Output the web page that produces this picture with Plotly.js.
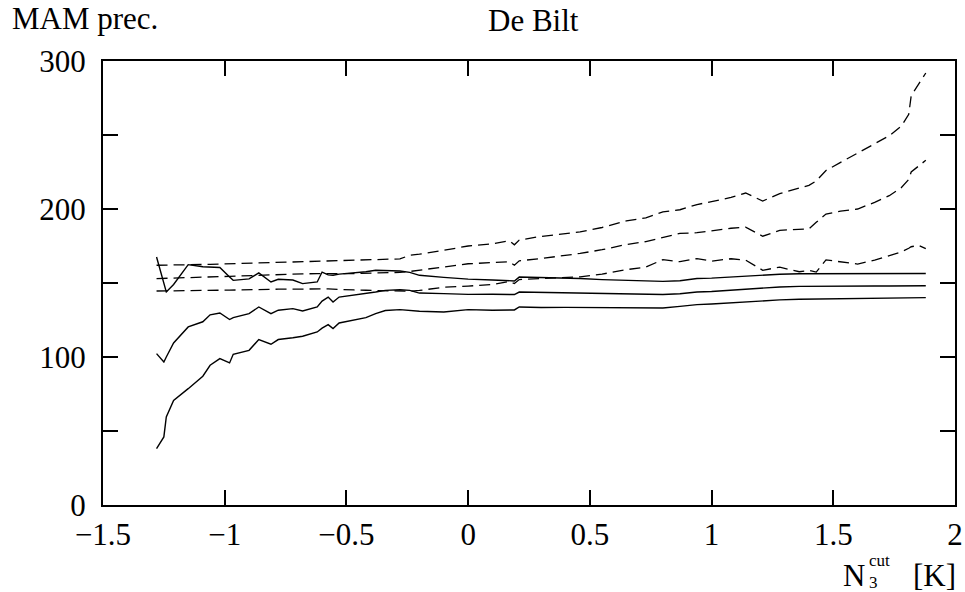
<!DOCTYPE html>
<html>
<head>
<meta charset="utf-8">
<script src="https://cdn.plot.ly/plotly-3.0.1.min.js"></script>
<style>html,body{margin:0;padding:0;background:#fff;}#chart{width:965px;height:592px;}</style>
</head>
<body>
<div id="chart"></div>
<script>
// N3 cut threshold [K]
const xCut = [-1.28, -1.25, -1.24, -1.21, -1.15, -1.09, -1.06, -1.02, -0.98, -0.965, -0.90, -0.86, -0.81, -0.78, -0.72, -0.68, -0.62, -0.60, -0.575, -0.555, -0.53, -0.47, -0.42, -0.38, -0.34, -0.28, -0.24, -0.20, -0.10, 0.00, 0.10, 0.17, 0.19, 0.21, 0.30, 0.40, 0.46, 0.55, 0.65, 0.73, 0.80, 0.87, 0.94, 1.00, 1.08, 1.14, 1.21, 1.28, 1.36, 1.40, 1.43, 1.47, 1.53, 1.60, 1.67, 1.73, 1.78, 1.81, 1.82, 1.85, 1.88];

// solid curves
const solidUpper = [167.6, 151, 144, 149, 162.4, 161, 160.8, 160.5, 154, 151.8, 152.8, 156.8, 150.7, 152.5, 152, 149.6, 150.7, 157.4, 155.5, 155.2, 156, 156.8, 157.6, 158.6, 158.4, 158.1, 157.2, 155.2, 153.8, 152.6, 152, 151.4, 151.4, 154, 153.7, 153.3, 153, 152.3, 151.8, 151.2, 151.1, 151.5, 153, 153.3, 154, 154.6, 155.6, 155.9, 156.3, 156.3, 156.3, 156.3, 156.3, 156.4, 156.4, 156.4, 156.4, 156.4, 156.4, 156.4, 156.4];
const solidMiddle = [102.3, 96.6, 100, 109.5, 120.3, 123.8, 128.5, 129.7, 125.3, 126.6, 129.3, 133.8, 129.3, 131.6, 132.7, 131.1, 133.8, 137.8, 140.5, 137.2, 140.5, 141.7, 142.8, 143.9, 145, 145.4, 145, 143.2, 142.8, 142.3, 142.4, 142.4, 142.2, 143.9, 143.6, 143.3, 143.2, 142.6, 142.5, 142, 142.2, 142.7, 143.9, 144.3, 145.1, 145.9, 146.9, 147.3, 147.7, 147.8, 147.8, 147.9, 147.9, 148, 148, 148, 148.1, 148.1, 148.1, 148.1, 148.1];
const solidLower = [38.1, 46, 59.5, 70.7, 78.6, 87, 94.4, 98.9, 96, 101.8, 104.5, 111.8, 108.6, 111.8, 113, 114, 116.9, 119.5, 121.9, 119.2, 123, 124.8, 126.6, 129.3, 131.4, 132, 131.3, 130.9, 130.4, 132, 131.6, 132, 131.8, 133.8, 133.4, 133.5, 133.4, 133.2, 133, 132.8, 133.1, 134.2, 135.4, 135.8, 136.6, 137.3, 138.3, 138.6, 139, 139.1, 139.2, 139.3, 139.4, 139.5, 139.6, 139.8, 139.9, 140, 140, 140.1, 140.1];

// dashed curves
const dashUpper = [162, 162, 162, 162.1, 162.3, 162.5, 162.6, 162.8, 163, 163, 163.3, 163.5, 163.7, 163.9, 164.2, 164.5, 164.9, 164.9, 164.9, 165, 165, 165.2, 165.5, 165.8, 166, 166.3, 168.7, 169.5, 172.1, 175, 176.5, 178.5, 175.8, 179, 181.5, 183.5, 184.5, 187.5, 192, 194, 198, 199.5, 203, 205, 207.8, 210.8, 205.4, 210.4, 213.8, 216, 219, 226, 231.5, 237.6, 244, 249.5, 256, 264, 276.5, 284, 291.9];
const dashMiddle = [153, 153.2, 153.2, 153.4, 153.7, 154, 154.1, 154.3, 154.5, 154.6, 154.9, 155.1, 155.4, 155.6, 156, 156.2, 156.3, 156.4, 156.4, 156.4, 156.4, 156.4, 156.5, 156.6, 156.8, 157.2, 157.8, 158.6, 160.5, 163, 163.8, 164.3, 162, 165, 166.5, 168.5, 170, 172.5, 176, 178, 181, 183.5, 184, 185.5, 187, 187.8, 181.6, 185.6, 186.1, 186.6, 191, 196.6, 198.5, 200, 204.5, 209, 214.5, 220, 225, 229, 232.9];
const dashLower = [144.6, 144.6, 144.6, 144.7, 144.8, 145, 145, 145.1, 145.2, 145.2, 145.4, 145.5, 145.7, 145.8, 146, 146.2, 146.2, 146, 146, 145.8, 145.6, 145.3, 145.1, 145, 144.8, 144.6, 144.4, 145, 147.1, 147.9, 149, 151, 149.6, 152.3, 153, 153.6, 154.2, 156, 159, 160.8, 165.8, 164.4, 166.5, 164.8, 166.4, 165.5, 158.6, 160.7, 157.6, 158.5, 157.4, 165.6, 164.3, 162.8, 165.5, 168.5, 171, 173.5, 174.5, 175.4, 173.2];

const yTickVals = [0, 50, 100, 150, 200, 250, 300];
const yTickText = ['0', '', '100', '', '200', '', '300'];
const xTickVals = [-1.5, -1, -0.5, 0, 0.5, 1, 1.5, 2];
const xTickText = ['\u22121.5', '\u22121', '\u22120.5', '0', '0.5', '1', '1.5', '2'];

const FONT = 'Liberation Serif, Times New Roman, serif';
const FS = 31;
const solidStyle = {color: '#000', width: 1.4};
const dashStyle = {color: '#000', width: 1.3, dash: '11px,6px'};

const traces = [
  {x: xCut, y: solidUpper, mode: 'lines', line: solidStyle},
  {x: xCut, y: solidMiddle, mode: 'lines', line: solidStyle},
  {x: xCut, y: solidLower, mode: 'lines', line: solidStyle},
  {x: xCut, y: dashUpper, mode: 'lines', line: dashStyle},
  {x: xCut, y: dashMiddle, mode: 'lines', line: dashStyle},
  {x: xCut, y: dashLower, mode: 'lines', line: dashStyle}
];

const axisCommon = {
  showline: true, linecolor: '#000', linewidth: 2, mirror: 'ticks',
  ticks: 'inside', ticklen: 15, tickwidth: 2, tickcolor: '#000',
  showgrid: false, zeroline: false, fixedrange: true,
  tickfont: {family: FONT, size: FS, color: '#000'}
};

const layout = {
  width: 965, height: 592,
  margin: {l: 103, r: 10, t: 61, b: 87},
  paper_bgcolor: '#fff', plot_bgcolor: '#fff',
  showlegend: false,
  font: {family: FONT, color: '#000'},
  xaxis: Object.assign({}, axisCommon, {range: [-1.5, 2], tickmode: 'array', tickvals: xTickVals, ticktext: xTickText, ticklabelstandoff: 1}),
  yaxis: Object.assign({}, axisCommon, {range: [0, 300], tickmode: 'array', tickvals: yTickVals, ticktext: yTickText, ticklabelstandoff: 9}),
  annotations: [
    {text: 'MAM prec.', xref: 'paper', yref: 'paper', x: -0.109, y: 1.095, xanchor: 'left', yanchor: 'middle', showarrow: false, font: {family: FONT, size: FS, color: '#000'}},
    {text: 'De Bilt', xref: 'paper', yref: 'paper', x: 0.505, y: 1.092, xanchor: 'center', yanchor: 'middle', showarrow: false, font: {family: FONT, size: FS, color: '#000'}},
    {text: 'N', xref: 'paper', yref: 'paper', x: 0.882, y: -0.158, xanchor: 'center', yanchor: 'middle', showarrow: false, font: {family: FONT, size: FS, color: '#000'}},
    {text: 'cut<br>3', xref: 'paper', yref: 'paper', x: 0.898, y: -0.149, xanchor: 'left', yanchor: 'middle', align: 'left', showarrow: false, borderpad: 0, font: {family: FONT, size: 17, color: '#000'}},
    {text: '[K]', xref: 'paper', yref: 'paper', x: 1.004, y: -0.158, xanchor: 'right', yanchor: 'middle', showarrow: false, font: {family: FONT, size: FS, color: '#000'}}
  ]
};

Plotly.newPlot('chart', traces, layout, {displayModeBar: false, staticPlot: true});
</script>
</body>
</html>
